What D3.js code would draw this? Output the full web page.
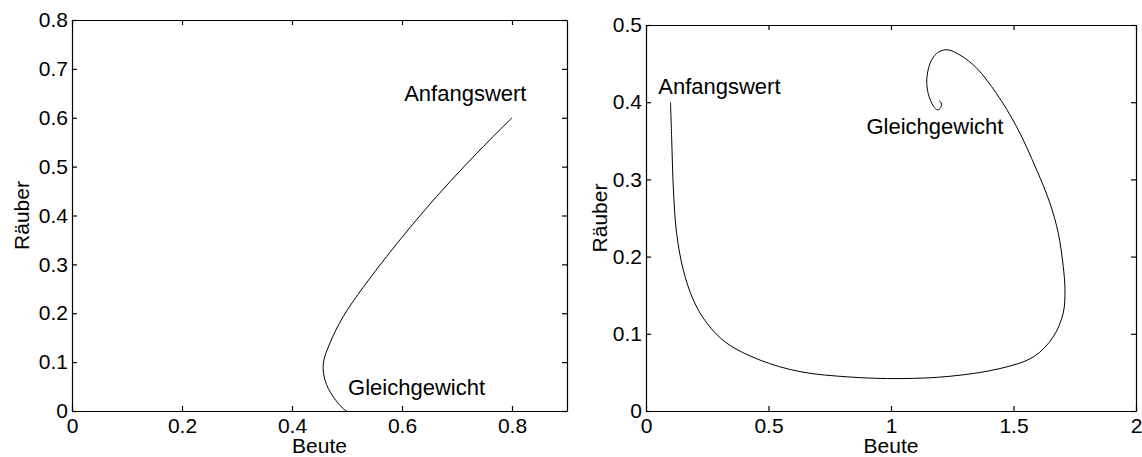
<!DOCTYPE html>
<meta charset="utf-8">
<html>
<head>
<style>
  body { margin: 0; background: #fff; }
  svg text { font-family: "Liberation Sans", Arial, sans-serif; fill: #000; }
  .axis path, .axis line { stroke: #000; stroke-width: 1.2; }
</style>
</head>
<body>
<svg id="chart" width="1142" height="457"></svg>
<script src="https://cdn.jsdelivr.net/npm/d3@7"></script>
<script>

// left panel: prey dies back to equilibrium (0.5, 0)
var leftXTicks = [0, 0.2, 0.4, 0.6, 0.8]
var leftYTicks = [0, 0.1, 0.2, 0.3, 0.4, 0.5, 0.6, 0.7, 0.8]
var leftPrey = [0.80, 0.760, 0.712, 0.663, 0.615, 0.572, 0.530, 0.493, 0.469, 0.457, 0.460, 0.475, 0.496, 0.50]
var leftPred = [0.60, 0.555, 0.499, 0.439, 0.376, 0.316, 0.254, 0.193, 0.139, 0.098, 0.063, 0.029, 0.002, 0.0]
var leftLabels = [
  {text: "Anfangswert", x: 0.604, y: 0.634},
  {text: "Gleichgewicht", x: 0.502, y: 0.033}
]

// right panel: spiral into equilibrium (1.2, 0.4)
var rightXTicks = [0, 0.5, 1, 1.5, 2]
var rightYTicks = [0, 0.1, 0.2, 0.3, 0.4, 0.5]
var rightPrey = [0.10, 0.105, 0.112, 0.125, 0.152, 0.193, 0.248, 0.329, 0.465, 0.629, 0.833, 1.037, 1.241, 1.445,
  1.581, 1.662, 1.703, 1.710, 1.703, 1.683, 1.649, 1.595, 1.513, 1.431, 1.350, 1.282, 1.227, 1.186, 1.159,
  1.146, 1.152, 1.173, 1.190, 1.203, 1.205, 1.197]
var rightPred = [0.40, 0.351, 0.286, 0.230, 0.183, 0.144, 0.114, 0.088, 0.066, 0.051, 0.044, 0.042, 0.045, 0.055,
  0.070, 0.096, 0.127, 0.157, 0.187, 0.230, 0.269, 0.312, 0.368, 0.411, 0.444, 0.461, 0.468, 0.463, 0.450,
  0.429, 0.411, 0.395, 0.390, 0.393, 0.399, 0.402]
var rightLabels = [
  {text: "Anfangswert", x: 0.05, y: 0.41},
  {text: "Gleichgewicht", x: 0.90, y: 0.359}
]

var svg = d3.select("#chart")
var fontSize = 21

function panel(box, xDomain, yDomain, xTicks, yTicks, prey, pred, labels) {
  var x = d3.scaleLinear().domain(xDomain).range([box.left, box.right])
  var y = d3.scaleLinear().domain(yDomain).range([box.bottom, box.top])
  var fmt = function(d){ return String(d) }

  var g = svg.append("g")

  // bottom + left with labels, top + right mirrored ticks
  g.append("g").attr("class", "axis").attr("transform", "translate(0," + box.bottom + ")")
    .call(d3.axisBottom(x).tickValues(xTicks).tickFormat(fmt).tickSizeInner(-5).tickSizeOuter(0).tickPadding(7))
  g.append("g").attr("class", "axis").attr("transform", "translate(0," + box.top + ")")
    .call(d3.axisTop(x).tickValues(xTicks).tickFormat("").tickSizeInner(-5).tickSizeOuter(0))
  g.append("g").attr("class", "axis").attr("transform", "translate(" + box.left + ",0)")
    .call(d3.axisLeft(y).tickValues(yTicks).tickFormat(fmt).tickSizeInner(-5).tickSizeOuter(0).tickPadding(4))
  g.append("g").attr("class", "axis").attr("transform", "translate(" + box.right + ",0)")
    .call(d3.axisRight(y).tickValues(yTicks).tickFormat("").tickSizeInner(-5).tickSizeOuter(0))

  g.selectAll(".axis text").style("font-size", fontSize + "px").attr("font-family", null)

  // trajectory
  var pts = prey.map(function(p, i){ return [p, pred[i]] })
  g.append("path")
    .datum(pts)
    .attr("fill", "none")
    .attr("stroke", "#000")
    .attr("stroke-width", 1)
    .attr("d", d3.line()
      .x(function(d){ return x(d[0]) })
      .y(function(d){ return y(d[1]) })
      .curve(d3.curveCatmullRom))

  g.selectAll(".ann")
    .data(labels)
    .enter()
    .append("text")
      .attr("x", function(d){ return x(d.x) })
      .attr("y", function(d){ return y(d.y) })
      .style("font-size", "22px")
      .text(function(d){ return d.text })

  g.append("text")
    .attr("x", (box.left + box.right) / 2)
    .attr("y", 453)
    .attr("text-anchor", "middle")
    .style("font-size", fontSize + "px")
    .text("Beute")

  g.append("text")
    .attr("transform", "translate(" + box.yLabel + "," + (box.top + box.bottom) / 2 + ") rotate(-90)")
    .attr("text-anchor", "middle")
    .style("font-size", fontSize + "px")
    .text("Räuber")
}

panel({left: 72, right: 567, top: 20, bottom: 411, yLabel: 29}, [0, 0.9], [0, 0.8],
  leftXTicks, leftYTicks, leftPrey, leftPred, leftLabels)
panel({left: 646, right: 1136, top: 25, bottom: 411, yLabel: 607}, [0, 2], [0, 0.5],
  rightXTicks, rightYTicks, rightPrey, rightPred, rightLabels)

</script>
</body>
</html>
